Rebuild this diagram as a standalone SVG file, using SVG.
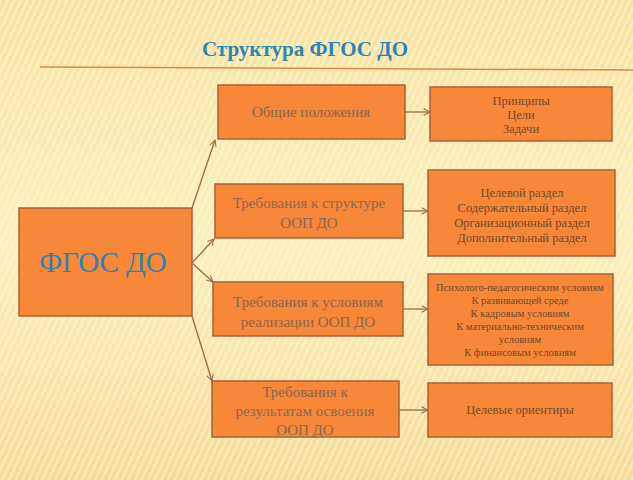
<svg xmlns="http://www.w3.org/2000/svg" width="633" height="480" viewBox="0 0 633 480">
<defs>
<linearGradient id="bg" x1="0" y1="0" x2="0" y2="1">
<stop offset="0" stop-color="#f7e3a0"/>
<stop offset="0.5" stop-color="#fcefba"/>
<stop offset="1" stop-color="#f5dd98"/>
</linearGradient>
<pattern id="stripes" width="6" height="6" patternUnits="userSpaceOnUse" patternTransform="rotate(25)">
<rect width="2" height="6" fill="#ffffff" opacity="0.35"/>
</pattern>
<marker id="arr" viewBox="0 0 10 10" refX="9" refY="5" markerWidth="8" markerHeight="8" orient="auto" markerUnits="userSpaceOnUse">
<path d="M1,1 L9,5 L1,9" fill="none" stroke="#9a6a48" stroke-width="1.3"/>
</marker>
</defs>
<style>
.box{fill:#f7883a;stroke:#a8623a;stroke-width:1.5}
.title{font-family:"Liberation Serif",serif;font-size:21px;font-weight:bold;fill:#2b86b5;text-anchor:middle}
.big{font-family:"Liberation Serif",serif;font-size:29px;fill:#2f82b0;text-anchor:middle}
.mid{font-family:"Liberation Serif",serif;font-size:15px;fill:#8c6650;text-anchor:middle}
.rt{font-family:"Liberation Serif",serif;font-size:12.5px;fill:#6e4a2c;text-anchor:middle}
.rs{font-family:"Liberation Serif",serif;font-size:10.5px;fill:#6e4a2c;text-anchor:middle}
.con{stroke:#9a6a48;stroke-width:1.3;fill:none;marker-end:url(#arr)}
</style>
<rect width="633" height="480" fill="url(#bg)"/>
<rect width="633" height="480" fill="url(#stripes)"/>
<text class="title" x="305" y="56">Структура ФГОС ДО</text>
<line x1="40" y1="67" x2="633" y2="70" stroke="#d9894a" stroke-width="1.5"/>
<g id="connectors">
<line class="con" x1="192" y1="208" x2="215" y2="140"/>
<line class="con" x1="192" y1="263" x2="214" y2="239"/>
<line class="con" x1="192" y1="263" x2="213" y2="282"/>
<line class="con" x1="192" y1="316" x2="212" y2="381"/>
<line class="con" x1="405" y1="112" x2="430" y2="112"/>
<line class="con" x1="403" y1="211" x2="428" y2="211"/>
<line class="con" x1="403" y1="309" x2="428" y2="309"/>
<line class="con" x1="399" y1="410" x2="428" y2="410"/>
</g>
<g id="fgos">
<rect class="box" x="19" y="208" width="173" height="108"/>
<text class="big" x="103" y="272">ФГОС ДО</text>
</g>
<g id="obshie">
<rect class="box" x="218" y="85" width="187" height="54"/>
<text class="mid" x="311" y="117">Общие положения</text>
</g>
<g id="struktura">
<rect class="box" x="215" y="184" width="188" height="54"/>
<text class="mid" x="309" y="208">Требования к структуре</text>
<text class="mid" x="309" y="228">ООП ДО</text>
</g>
<g id="usloviya">
<rect class="box" x="213" y="282" width="190" height="54"/>
<text class="mid" x="308" y="307">Требования к условиям</text>
<text class="mid" x="308" y="327">реализации ООП ДО</text>
</g>
<g id="rezultaty">
<rect class="box" x="212" y="381" width="187" height="56"/>
<text class="mid" x="305" y="397">Требования к</text>
<text class="mid" x="305" y="416">результатам освоения</text>
<text class="mid" x="305" y="435">ООП ДО</text>
</g>
<g id="principy">
<rect class="box" x="430" y="87" width="182" height="54"/>
<text class="rt" x="521" y="105">Принципы</text>
<text class="rt" x="521" y="119">Цели</text>
<text class="rt" x="521" y="133">Задачи</text>
</g>
<g id="razdely">
<rect class="box" x="428" y="170" width="187" height="86"/>
<text class="rt" x="522" y="197">Целевой раздел</text>
<text class="rt" x="522" y="212">Содержательный раздел</text>
<text class="rt" x="522" y="227">Организационный раздел</text>
<text class="rt" x="522" y="242">Дополнительный раздел</text>
</g>
<g id="usl-list">
<rect class="box" x="428" y="274" width="185" height="91"/>
<text class="rs" x="520" y="291">Психолого-педагогическим условиям</text>
<text class="rs" x="520" y="304">К развивающей среде</text>
<text class="rs" x="520" y="317">К кадровым условиям</text>
<text class="rs" x="520" y="330">К материально-техническим</text>
<text class="rs" x="520" y="343">условиям</text>
<text class="rs" x="520" y="356">К финансовым условиям</text>
</g>
<g id="orientiry">
<rect class="box" x="428" y="383" width="184" height="54"/>
<text class="rt" x="520" y="414">Целевые ориентиры</text>
</g>
</svg>
